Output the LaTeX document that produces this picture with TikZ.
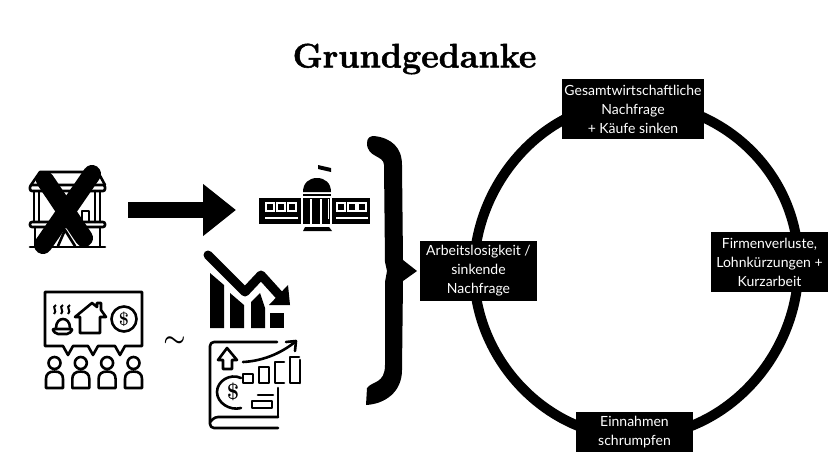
\documentclass[tikz,border=0pt]{standalone}
\usepackage{fontspec}
\usetikzlibrary{arrows.meta, backgrounds}
\newfontfamily\boxfont{Lato}
\newfontfamily\titlefont[BoldFeatures={FakeBold=1.6}]{Latin Modern Roman}

\tikzset{
  infobox/.style={fill=black, text=white, font=\boxfont\fontsize{14}{19}\selectfont,
    align=center, inner sep=0pt, minimum width=117pt, minimum height=60pt},
  ringline/.style={line width=10pt},
  iconline/.style={line width=2.6pt, line join=round, line cap=round},
  crossline/.style={line width=18pt, line cap=round},
}

\begin{document}
\begin{tikzpicture}[x=1pt, y=-1pt]
  \useasboundingbox (0,0) rectangle (828,466);

  % Title
  \node[font=\titlefont\bfseries\fontsize{34}{40}\selectfont] (title) at (414.5,59) {Grundgedanke};

  % Boxes on the ring
  \node[infobox, minimum width=142pt] (boxTop) at (633,109) {Gesamtwirtschaftliche\\Nachfrage\\+ Käufe sinken};
  \node[infobox] (boxLeft) at (478.5,271) {Arbeitslosigkeit /\\sinkende\\Nachfrage};
  \node[infobox] (boxRight) at (769.5,262) {Firmenverluste,\\Lohnkürzungen +\\Kurzarbeit};
  \node[infobox, minimum height=40pt] (boxBottom) at (634.5,432) {Einnahmen\\schrumpfen};

  % Ring behind the boxes
  \begin{pgfonlayer}{background}
    \draw[ringline] ([yshift=7pt]boxTop.center) .. controls +(-88,0) and +(0,-88) .. ([xshift=-4.5pt]boxLeft.center);
    \draw[ringline] ([xshift=-4.5pt]boxLeft.center) .. controls +(0,88) and +(-88,0) .. ([yshift=-5pt]boxBottom.center);
    \draw[ringline] ([yshift=-5pt]boxBottom.center) .. controls +(90,0) and +(0,92) .. ([xshift=29pt,yshift=-3pt]boxRight.center);
    \draw[ringline] ([xshift=29pt,yshift=-3pt]boxRight.center) .. controls +(0,-92) and +(90,0) .. ([yshift=7pt]boxTop.center);
  \end{pgfonlayer}

  % Brace
  \fill (367,143) .. controls (367,138) and (370,136) .. (374,136) .. controls (392,138) and (402,148) .. (402,165)
    -- (403,260) -- (417,271) -- (403,281) -- (402,370)
    .. controls (402,392) and (385,404) .. (366,405) -- (367,388)
    .. controls (372,381) and (385,384) .. (385,365) -- (385,282) -- (387,271) -- (385,262) -- (384,165)
    .. controls (384,155) and (367,158) .. (367,143) -- cycle;

  % Old bank with cross
  \begin{scope}[iconline]
    \draw (31,185) -- (40,172) -- (98,172) -- (105,185);
    \draw[rounded corners=2pt] (30,185) rectangle (105,191);
    \draw (34,191) -- (34,222) (39,191) -- (39,222) (95,191) -- (95,222) (100,191) -- (100,222);
    \draw[rounded corners=2pt] (30,222) rectangle (105,227);
    \draw (35,227) -- (35,246) (100,227) -- (100,246);
    \draw (30,247) -- (105,247);
    \draw (82,221) -- (82,211) -- (89,211) -- (89,221);
    \draw (58,246) -- (65,230) -- (75,246);
  \end{scope}
  \draw[crossline] (45,180) -- (84,238);
  \draw[crossline] (92,174) -- (43,245);

  % Big arrow
  \coordinate (arrowStart) at (128,210);
  \coordinate (arrowEnd) at (236,210);
  \draw[line width=16pt, -{Triangle[length=33pt, width=50pt]}] (arrowStart) -- (arrowEnd);

  % Capitol
  \fill (318,165) -- (331,168) -- (331,172) -- (318,169) -- cycle;
  \fill (303,192) .. controls (303,183) and (309,178) .. (317,178) .. controls (325,178) and (331,183) .. (331,192) -- cycle;
  \fill (303,194) rectangle (331,196);
  \fill (259,198) rectangle (301,224);
  \fill (303,198) rectangle (330,224);
  \fill (332,198) rectangle (370,224);
  \fill (303,231) -- (305,227) -- (329,227) -- (332,231) -- cycle;
  \fill[white] (310,199) rectangle (312,224);
  \fill[white] (320,199) rectangle (322,224);
  \fill[white] (328,199) rectangle (329,219);
  \foreach \x in {266,277,288,337,348,358} {
    \draw[white, line width=2pt] (\x,203) rectangle ++(8,8);
  }
  \fill[white] (265,217) rectangle (298,219);
  \fill[white] (336,217) rectangle (368,219);

  % Speech bubble with people
  \draw[iconline] (45,292) -- (142,292) -- (142,346) -- (125,346) -- (120,355) -- (115,346)
    -- (98,346) -- (93,355) -- (88,346) -- (73,346) -- (68,355) -- (63,346) -- (45,346) -- cycle;
  \foreach \x in {0,26.3,52.6,79} {
    \begin{scope}[shift={(\x,0)}, iconline]
      \draw (54.5,363) circle (6);
      \draw (46,388) -- (46,379) .. controls (46,374) and (49,371.5) .. (54.5,371.5)
        .. controls (60,371.5) and (63,374) .. (63,379) -- (63,388) -- cycle;
    \end{scope}
  }
  % steam, food, house and coin
  \foreach \x in {54,61,68} {
    \draw[line width=2pt] (\x+2,305) .. controls (\x-3,307) and (\x+4,311) .. (\x,314);
  }
  \draw[iconline] (56,328) .. controls (56,316) and (70,316) .. (70,328);
  \draw[iconline, rounded corners=2pt] (52,329) -- (73,329) -- (69,334) -- (56,334) -- cycle;
  \draw[iconline] (75,317) -- (92,303) -- (97,307) -- (97,303) -- (101,303) -- (101,310) -- (106,317)
    -- (100,317) -- (100,333) -- (80,333) -- (80,317) -- cycle;
  \draw[iconline] (124,319) circle (12.5);
  \node[font=\bfseries\fontsize{18}{18}\selectfont, inner sep=0pt] (coinOne) at (124,319) {\$};

  % Tilde
  \node[font=\fontsize{38}{38}\selectfont\boldmath, inner sep=0pt] (tilde) at (174.5,342) {$\sim$};

  % Falling chart
  \fill (210,273) -- (224,285) -- (224,328) -- (210,328) -- cycle;
  \fill (230,293) -- (244,305) -- (244,328) -- (230,328) -- cycle;
  \fill (251,302) -- (260,293) -- (265,308) -- (265,328) -- (251,328) -- cycle;
  \fill (270,313) rectangle (284,328);
  \draw[line width=9pt, line cap=round, line join=round] (208,255) -- (245,292) -- (261,275) -- (280,296);
  \fill (288,285) -- (290,305) -- (269,305) -- cycle;

  % Book
  \begin{scope}[iconline]
    \draw[rounded corners=4pt] (277,342) -- (210,342) -- (210,428) -- (278,428);
    \draw[rounded corners=3pt] (278,417) -- (215,417) -- (210,422);
    \draw (278,388) -- (278,417);
    \draw (227,348) -- (218,360) -- (223,360) -- (223,369) -- (232,369) -- (232,360) -- (237,360) -- cycle;
    \draw (243,362) .. controls (262,361) and (280,354) .. (295,342);
    \draw (286,342) -- (296,341) -- (295,351);
    \draw (243,374) rectangle (253,383);
    \draw (259,367) rectangle (269,383);
    \draw (284,362) -- (275,362) -- (275,383) -- (284,383);
    \draw (299,357) -- (290,357) -- (290,383) -- (299,383) (300,360) -- (300,383);
    \draw (241,378) .. controls (230,373) and (217,381) .. (217,392) .. controls (217,403) and (230,411) .. (241,408);
    \draw (258,395) -- (273,395);
    \draw (252,401) rectangle (272,408);
  \end{scope}
  \node[font=\bfseries\fontsize{22}{22}\selectfont, inner sep=0pt] (coinTwo) at (233,392) {\$};
\end{tikzpicture}
\end{document}
